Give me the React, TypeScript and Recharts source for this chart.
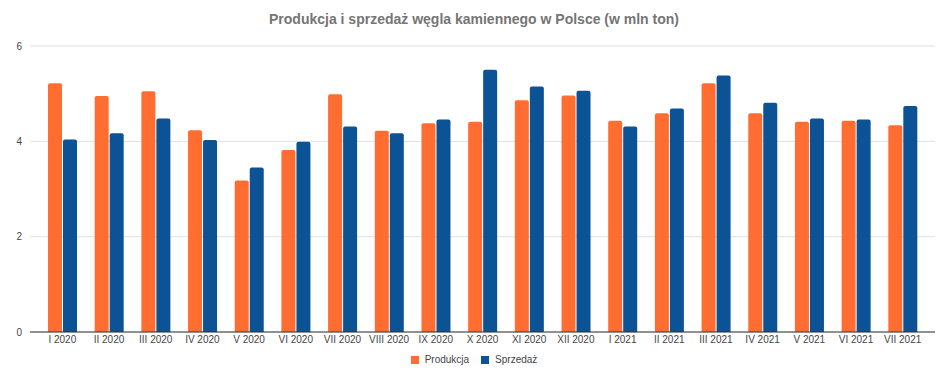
import React from 'react';
import { BarChart, Bar, XAxis, YAxis, CartesianGrid } from 'recharts';

const categories = ['I 2020', 'II 2020', 'III 2020', 'IV 2020', 'V 2020', 'VI 2020', 'VII 2020', 'VIII 2020', 'IX 2020', 'X 2020', 'XI 2020', 'XII 2020', 'I 2021', 'II 2021', 'III 2021', 'IV 2021', 'V 2021', 'VI 2021', 'VII 2021'];
const produkcja = [5.22, 4.95, 5.05, 4.23, 3.18, 3.82, 4.99, 4.22, 4.38, 4.41, 4.86, 4.96, 4.43, 4.59, 5.22, 4.59, 4.41, 4.43, 4.34];
const sprzedaz = [4.04, 4.17, 4.48, 4.03, 3.45, 3.99, 4.31, 4.17, 4.46, 5.5, 5.15, 5.06, 4.31, 4.69, 5.38, 4.81, 4.48, 4.46, 4.74];
const yTicks = [0, 2, 4, 6];

const data = categories.map((c, i) => ({ name: c, Produkcja: produkcja[i], 'Sprzedaż': sprzedaz[i] }));

const ORANGE = '#ff6d31';
const BLUE = '#0b5394';
const FONT = '"Liberation Sans", Arial, sans-serif';

export default function App() {
  return (
    <div style={{ position: 'absolute', left: 0, top: 0, width: 948, height: 380, background: '#fff', fontFamily: FONT }}>
      <div style={{ position: 'absolute', left: 0, top: 11, width: 948, textAlign: 'center', fontSize: 14, fontWeight: 'bold', color: '#757575' }}>
        Produkcja i sprzedaż węgla kamiennego w Polsce (w mln ton)
      </div>
      <BarChart width={948} height={380} data={data} margin={{ top: 46, right: 13, bottom: 28, left: 0 }} barGap={1}>
        <CartesianGrid vertical={false} stroke="#e0e0e0" />
        <XAxis
          dataKey="name"
          interval={0}
          tickLine={false}
          tickSize={0}
          tickMargin={4}
          height={20}
          padding={{ left: 9, right: 9 }}
          axisLine={{ stroke: '#333', strokeWidth: 1 }}
          tick={{ fontSize: 10, fill: '#444', fontFamily: FONT }}
        />
        <YAxis
          width={30}
          domain={[0, 6]}
          ticks={yTicks}
          tickLine={false}
          axisLine={false}
          tick={{ fontSize: 10, fill: '#444', fontFamily: FONT }}
        />
        <Bar dataKey="Produkcja" fill={ORANGE} barSize={14} radius={[2, 2, 0, 0]} isAnimationActive={false} />
        <Bar dataKey="Sprzedaż" fill={BLUE} barSize={14} radius={[2, 2, 0, 0]} isAnimationActive={false} />
      </BarChart>
      <div style={{ position: 'absolute', top: 354, left: 0, width: 948, display: 'flex', justifyContent: 'center', fontSize: 10, color: '#444' }}>
        <div style={{ display: 'flex', alignItems: 'center', marginRight: 12 }}>
          <span style={{ display: 'inline-block', width: 8, height: 8, background: ORANGE, marginRight: 6 }} />
          <span>Produkcja</span>
        </div>
        <div style={{ display: 'flex', alignItems: 'center' }}>
          <span style={{ display: 'inline-block', width: 8, height: 8, background: BLUE, marginRight: 6 }} />
          <span>Sprzedaż</span>
        </div>
      </div>
    </div>
  );
}
